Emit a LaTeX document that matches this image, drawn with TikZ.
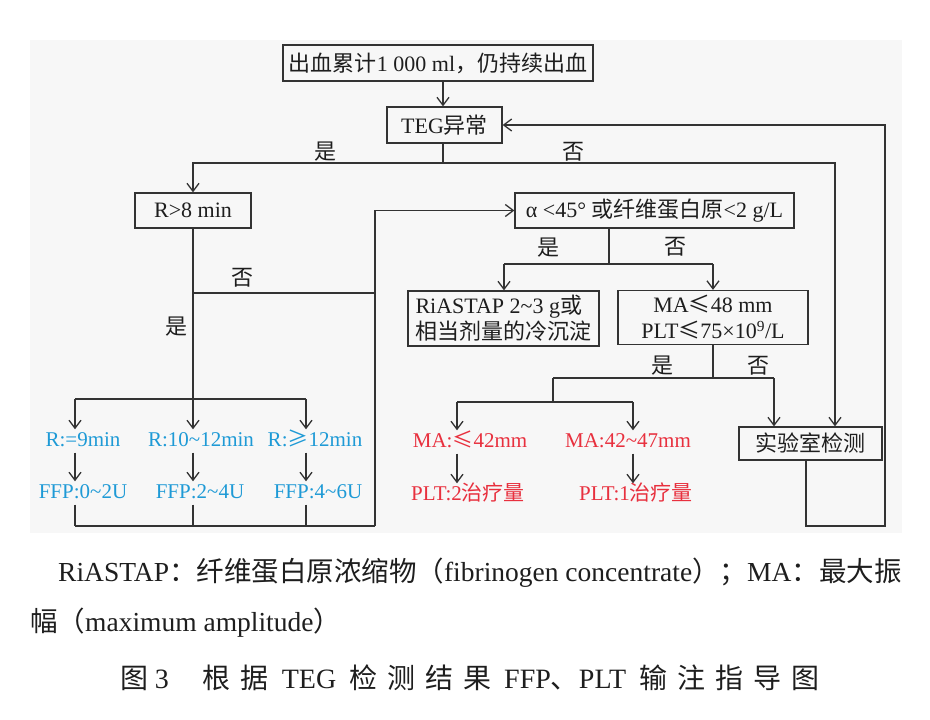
\documentclass[tikz,border=0pt]{standalone}
\usepackage{fontspec}
\setmainfont{Liberation Serif}
\newfontfamily\cjk{Noto Sans CJK SC}
\usetikzlibrary{arrows.meta}
\newcommand\C[1]{{\cjk #1}}
\newcommand\tld{\textasciitilde}
\definecolor{lnc}{HTML}{333333}
\definecolor{bl}{HTML}{1E9AD6}
\definecolor{rd}{HTML}{E8303E}
\definecolor{bg}{HTML}{F7F7F7}
\definecolor{tx}{HTML}{1E1E1E}
\tikzset{
 box/.style={draw=lnc, line width=1.3pt, inner sep=0pt, align=center, font=\fontsize{22}{26}\selectfont, text=tx},
 lbl/.style={inner sep=0pt, font=\fontsize{22}{26}\selectfont\cjk, text=tx},
 ln/.style={draw=lnc, line width=1.3pt},
 arr/.style={ln, -{Straight Barb[length=8pt,width=12pt]}},
 btxt/.style={inner xsep=0pt, inner ysep=2pt, text height=15pt, text depth=4pt, font=\fontsize{21}{24}\selectfont, text=bl},
 rtxt/.style={btxt, text=rd},
 captxt/.style={inner sep=0pt, font=\fontsize{27.5}{30}\selectfont, text=tx},
}
\begin{document}
\begin{tikzpicture}[x=1pt,y=-1pt]
\useasboundingbox (0,0) rectangle (930,720);
\fill[white] (0,0) rectangle (930,720);
\fill[bg] (30,40) rectangle (902,533);

% boxes
\node[box, minimum width=310pt, minimum height=36pt] (top) at (438,63) {\C{出血累计}1 000 ml\C{，仍持续出血}};
\node[box, minimum width=115pt, minimum height=36pt] (teg) at (444.5,125) {TEG\C{异常}};
\node[box, minimum width=116pt, minimum height=35pt] (r8) at (193,210.5) {R>8 min};
\node[box, minimum width=279pt, minimum height=35pt] (alpha) at (654.5,210.5) {α <45° \C{或纤维蛋白原}<2 g/L};
\node[box, minimum width=191pt, minimum height=55pt, align=left] (ria) at (503.5,318.5) {RiASTAP 2\tld3 g\C{或}\\\C{相当剂量的冷沉淀}};
\node[box, minimum width=190pt, minimum height=54pt] (ma) at (713,317.5) {MA\C{≤}48 mm\\PLT\C{≤}75×10\textsuperscript{9}/L};
\node[box, minimum width=143pt, minimum height=33pt] (lab) at (810.5,443.5) {\C{实验室检测}};

% blue texts
\node[btxt] (rb1) at (83,441) {R:=9min};
\node[btxt] (rb2) at (201,441) {R:10\tld12min};
\node[btxt] (rb3) at (315,441) {R:\C{≥}12min};
\node[btxt] (fb1) at (83,493) {FFP:0\tld2U};
\node[btxt] (fb2) at (200,493) {FFP:2\tld4U};
\node[btxt] (fb3) at (318,493) {FFP:4\tld6U};
% red texts
\node[rtxt] (rm1) at (470,442) {MA:\C{≤}42mm};
\node[rtxt] (rm2) at (628,442) {MA:42\tld47mm};
\node[rtxt] (rp1) at (468,495) {PLT:2\C{治疗量}};
\node[rtxt] (rp2) at (636,495) {PLT:1\C{治疗量}};

% labels
\node[lbl] (l1) at (325,152) {是};
\node[lbl] (l2) at (573,152) {否};
\node[lbl] (l3) at (242,278) {否};
\node[lbl] (l4) at (176,327) {是};
\node[lbl] (l5) at (548,248) {是};
\node[lbl] (l6) at (675,247) {否};
\node[lbl] (l7) at (662,366) {是};
\node[lbl] (l8) at (758,366) {否};

% coordinates
\coordinate (j1) at (443,163);
\coordinate (k1) at (835,163);
\coordinate (f1) at (806,526);
\coordinate (f2) at (885,526);
\coordinate (j2) at (193,293);
\coordinate (j3) at (193,399);
\coordinate (v1) at (375,293);
\coordinate (b3) at (375,526);
\coordinate (c1) at (75,399);
\coordinate (c3) at (306,399);
\coordinate (e1) at (75,526);
\coordinate (e2) at (193,526);
\coordinate (e3) at (306,526);
\coordinate (j4) at (609,264);
\coordinate (g1) at (504,264);
\coordinate (g2) at (713,264);
\coordinate (j5) at (713,378);
\coordinate (h1) at (553,378);
\coordinate (h2) at (774,378);
\coordinate (h3) at (553,402);
\coordinate (d1) at (457,402);
\coordinate (d2) at (633,402);

% top part
\draw[arr] (top.south -| j1) -- (teg.north -| j1);
\draw[ln] (teg.south -| j1) -- (j1);
\draw[arr] (j1) -| (r8.north);
\draw[arr] (j1) -- (k1) -- (lab.north -| k1);
\draw[arr] (lab.south -| f1) -- (f1) -- (f2) |- (teg.east);

% R branch
\draw[ln] (r8.south) -- (j3);
\draw[ln] (j2) -- (v1);
\draw[arr] (b3) |- (alpha.west);
\draw[ln] (c1) -- (c3);
\draw[arr] (c1) -- (rb1.north -| c1);
\draw[arr] (j3) -- (rb2.north -| j3);
\draw[arr] (c3) -- (rb3.north -| c3);
\draw[arr] (rb1.south -| c1) -- (fb1.north -| c1);
\draw[arr] (rb2.south -| j3) -- (fb2.north -| j3);
\draw[arr] (rb3.south -| c3) -- (fb3.north -| c3);
\draw[ln] (fb1.south -| e1) -- (e1);
\draw[ln] (fb2.south -| e2) -- (e2);
\draw[ln] (fb3.south -| e3) -- (e3);
\draw[ln] (e1) -- (b3);

% alpha branch
\draw[ln] (alpha.south -| j4) -- (j4);
\draw[ln] (g1) -- (g2);
\draw[arr] (g1) -- (ria.north -| g1);
\draw[arr] (g2) -- (ma.north);
\draw[ln] (ma.south) -- (j5);
\draw[ln] (h1) -- (h2);
\draw[arr] (h2) -- (lab.north -| h2);
\draw[ln] (h1) -- (h3);
\draw[ln] (d1) -- (d2);
\draw[arr] (d1) -- (rm1.north -| d1);
\draw[arr] (d2) -- (rm2.north -| d2);
\draw[arr] (rm1.south -| d1) -- (rp1.north -| d1);
\draw[arr] (rm2.south -| d2) -- (rp2.north -| d2);

% caption
\node[captxt, anchor=west] (cap1) at (58,573) {RiASTAP\C{：纤维蛋白原浓缩物（}fibrinogen concentrate\C{）；}MA\C{：最大振}};
\node[captxt, anchor=west] (cap2) at (30,623) {\C{幅（}maximum amplitude\C{）}};
\node[captxt, font=\fontsize{28}{30}\selectfont] (cap3) at (470,678) {\C{图}\hspace{6pt}3\hspace{34pt}\C{根}\hspace{10pt}\C{据}\hspace{13pt}TEG\hspace{13pt}\C{检}\hspace{10pt}\C{测}\hspace{10pt}\C{结}\hspace{10pt}\C{果}\hspace{13pt}FFP\C{、}PLT\hspace{13pt}\C{输}\hspace{10pt}\C{注}\hspace{10pt}\C{指}\hspace{10pt}\C{导}\hspace{10pt}\C{图}};
\end{tikzpicture}
\end{document}
